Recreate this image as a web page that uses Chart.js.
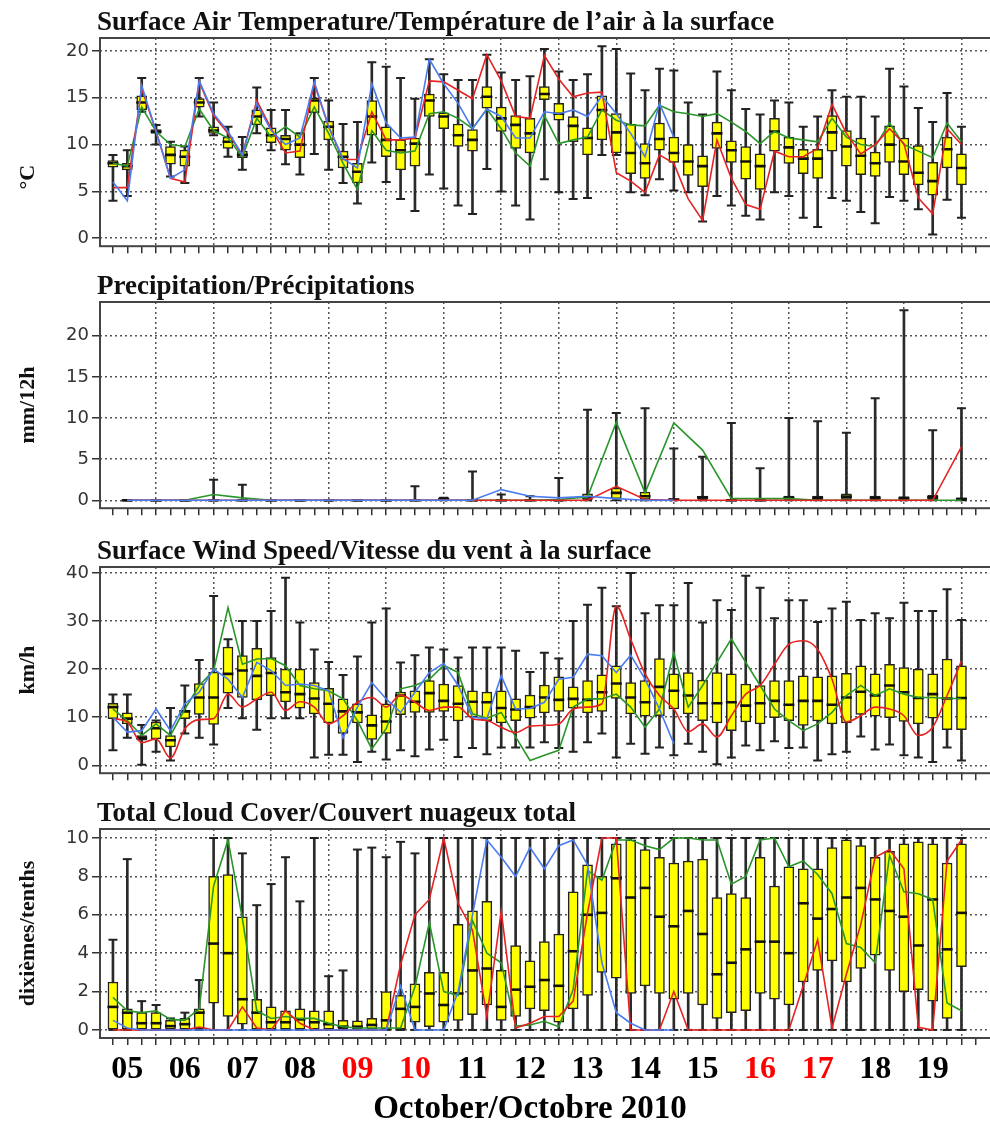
<!DOCTYPE html>
<html>
<head>
<meta charset="utf-8">
<script src="https://cdn.jsdelivr.net/npm/chart.js@4.4.0/dist/chart.umd.min.js"></script>
<style>
  html, body { margin: 0; padding: 0; background: #fff; width: 990px; height: 1124px; overflow: hidden; }
  canvas { position: absolute; left: 0; }
</style>
</head>
<body>
<canvas id="tempChart" width="1000" height="260" style="top:0px"></canvas>
<canvas id="precipChart" width="1000" height="260" style="top:262px"></canvas>
<canvas id="windChart" width="1000" height="260" style="top:527px"></canvas>
<canvas id="cloudChart" width="1000" height="335" style="top:789px"></canvas>
<script>
// heures depuis le 5 octobre 00Z, un pas de 6 h
var slotHours = [6,12,18,24,30,36,42,48,54,60,66,72,78,84,90,96,102,108,114,120,
  126,132,138,144,150,156,162,168,174,180,186,192,198,204,210,216,222,228,234,240,
  246,252,258,264,270,276,282,288,294,300,306,312,318,324,330,336,342,348,354,360];
// precipitations : cumuls de 12 h
var precipHours = [12,24,36,48,60,72,84,96,108,120,132,144,156,168,180,
  192,204,216,228,240,252,264,276,288,300,312,324,336,348,360];

var dayLabels = ['05','06','07','08','09','10','11','12','13','14','15','16','17','18','19'];
var dayLabelHours = [12,36,60,84,108,132,156,180,204,228,252,276,300,324,348];
var redDays = ['09','10','16','17'];

var tempTicks = [0, 5, 10, 15, 20];
var precipTicks = [0, 5, 10, 15, 20];
var windTicks = [0, 10, 20, 30, 40];
var cloudTicks = [0, 2, 4, 6, 8, 10];

// Temperature
var tempLow = [4.0,4.5,13.5,10.0,6.6,5.9,13.0,11.0,8.7,7.3, 11.2,9.4,7.9,6.8,9.0,7.3,5.9,3.7,8.1,6.0,
  4.2,2.9,6.8,5.3,3.5,2.6,7.4,5.0,3.5,2.0, 6.3,4.9,4.2,4.3,8.9,8.9,4.9,4.6,6.3,5.1,
  4.9,1.8,4.5,3.5,2.4,2.0,4.9,4.5,2.2,1.2, 4.3,4.0,2.8,1.6,4.4,4.0,3.1,0.4,4.1,2.2];
var tempQ1 = [7.6,7.3,13.7,11.2,7.9,7.7,14.0,11.2,9.6,8.6, 12.1,10.2,9.4,8.6,13.4,10.5,7.5,5.9,11.0,8.7,
  7.3,7.7,13.0,11.7,9.8,9.3,13.9,11.4,9.6,9.1, 14.8,12.6,10.3,8.9,10.5,9.1,6.9,6.4,9.4,8.1,
  6.7,5.5,9.6,8.1,6.3,5.2,9.3,8.0,6.9,6.4, 9.3,7.7,6.8,6.6,8.1,6.8,5.7,4.6,7.5,5.7];
var tempMed = [8.0,7.7,14.5,11.4,8.9,8.7,14.5,11.5,10.3,8.9, 13.0,11.0,10.6,10.0,14.7,11.9,8.7,7.1,13.0,10.5,
  9.4,10.1,14.7,13.0,11.0,10.5,15.1,12.8,12.1,11.2, 15.4,13.3,12.0,10.7,13.7,11.3,9.1,8.0,10.6,9.1,
  8.2,7.7,11.2,9.4,8.2,7.7,11.4,9.7,8.5,8.5, 11.3,9.8,8.8,8.0,10.0,8.2,7.0,6.1,9.5,7.5];
var tempQ3 = [8.3,8.0,15.2,11.6,9.8,9.4,14.9,11.9,10.8,9.3, 13.7,11.8,11.0,11.2,15.0,12.5,9.3,8.0,14.7,11.9,
  10.5,10.7,15.4,13.4,12.2,11.6,16.2,14.0,13.1,12.8, 16.2,14.4,13.0,11.8,15.2,13.3,12.2,10.1,12.3,10.8,
  10.0,8.8,12.4,10.4,9.8,9.0,12.8,10.8,9.5,9.5, 13.1,11.5,10.7,9.2,12.0,10.7,9.9,8.1,10.8,9.0];
var tempHigh = [8.9,9.4,17.1,12.1,10.3,9.8,17.1,14.5,11.9,10.8, 16.1,13.7,13.7,11.2,17.1,14.7,12.2,12.4,18.8,18.3,
  17.1,14.9,19.1,17.5,16.9,16.9,19.6,17.7,16.9,17.3, 20.2,17.8,16.9,17.5,20.5,20.2,17.6,15.8,18.1,17.9,
  14.5,13.2,17.8,15.8,13.8,13.2,14.7,14.5,11.9,13.0, 15.8,15.1,15.1,13.0,18.1,16.2,13.9,12.4,15.5,11.9];
var tempRed = [5.4,5.4,16.0,11.4,6.4,6.0,16.7,13.1,11.2,8.9, 14.7,11.7,9.1,9.3,16.5,11.9,8.4,8.4,13.5,10.5,
  10.5,10.7,16.8,16.7,15.8,14.9,19.6,16.8,13.0,12.8, 19.5,17.0,15.1,15.5,15.6,7.0,6.1,4.9,8.9,8.0,
  4.2,1.9,10.5,6.4,3.6,3.1,9.3,8.7,8.7,9.6, 14.3,11.2,9.0,10.0,11.7,10.1,4.3,2.6,11.7,10.0];
var tempBlue = [6.0,4.0,16.3,11.4,6.4,7.3,16.8,13.3,11.4,8.9, 14.4,11.5,10.0,10.7,16.7,11.9,8.5,7.5,16.5,12.3,
  10.7,10.8,19.1,16.5,14.4,11.7,13.8,13.0,10.7,10.7, 13.5,13.3,13.7,13.0,15.2,13.3,11.2,8.7,14.4,10.8];
var tempGreen = [8.0,7.7,14.0,11.4,10.0,9.8,13.8,11.5,10.7,8.7, 12.8,10.8,11.9,10.8,14.0,11.2,8.0,5.2,11.5,9.4,
  9.1,9.3,13.3,13.5,12.8,11.7,13.8,11.7,9.1,7.7, 13.1,10.1,10.5,10.8,13.7,12.6,12.1,12.0,14.2,13.5,
  13.3,13.0,13.3,12.4,11.4,10.1,11.4,10.7,10.5,10.3, 12.8,10.8,10.0,9.8,12.3,10.0,9.3,8.6,12.3,10.3];

// Precipitations
var precipLow = [0,0,0,0,0,0,0,0,0,0, 0,0,0,0,0,0,0,0,0,0, 0,0,0,0,0,0,0,0,0,0];
var precipQ1 = [0,0,0,0,0,0,0,0,0,0, 0,0,0,0,0,0,0.1,0.2,0.1,0, 0.1,0,0,0.1,0.1,0.1,0.1,0.1,0.1,0.05];
var precipMed = [0,0,0,0,0,0,0,0,0,0, 0,0.15,0,0,0,0,0.4,0.9,0.5,0.1, 0.35,0,0,0.3,0.3,0.45,0.3,0.25,0.35,0.15];
var precipQ3 = [0,0,0,0,0,0,0,0,0,0, 0,0.3,0,0,0,0,0.8,1.5,1.0,0.2, 0.5,0,0,0.5,0.5,0.8,0.5,0.45,0.6,0.3];
var precipHigh = [0,0,0,2.5,1.9,0,0,0,0,0, 1.7,0.3,3.5,0.7,0.5,2.7,11.0,10.6,11.2,6.3,
  5.3,9.4,3.9,10.0,9.6,8.2,12.4,23.1,8.5,11.2];
var precipRed = [0,0,0,0,0,0,0,0,0,0, 0,0,0,0,0,0,0,1.7,0.1,0, 0,0,0,0,0,0,0,0,0,6.5];
var precipBlue = [0,0,0,0,0,0,0,0,0,0, 0,0,0,1.3,0.5,0.3,0.5,0.2,0,0];
var precipGreen = [0,0,0,0.7,0.3,0,0,0,0,0, 0,0,0,0,0,0.1,0.4,9.5,0.9,9.4, 6.1,0.2,0.2,0.2,0,0,0,0,0,0];

// Vent
var windLow = [3.1,5.7,0.1,2.8,1.0,6.6,5.7,4.3,11.9,9.8, 7.4,9.8,9.8,9.8,1.6,2.2,2.2,0.7,2.8,1.2,
  3.1,1.9,3.3,5.3,1.7,3.6,2.3,3.7,3.7,3.7, 4.8,3.6,2.8,4.8,6.6,1.6,4.5,2.4,3.7,2.1,
  4.5,2.8,0.2,1.6,4.1,3.1,5.0,3.6,3.7,1.0, 2.3,2.8,6.0,3.3,4.3,2.1,1.6,0.7,3.7,1.0];
var windQ1 = [9.7,8.6,5.2,5.5,3.8,9.7,10.6,8.5,15.0,14.1, 13.6,14.5,13.2,11.9,10.7,8.8,6.6,8.8,5.4,6.6,
  10.5,11.0,11.0,11.2,9.2,10.0,9.3,8.8,9.3,9.8, 10.9,11.2,11.9,10.9,11.2,13.9,10.7,10.2,10.3,11.7,
  10.7,9.3,8.8,7.2,9.0,8.6,9.9,9.3,8.3,9.2, 8.6,8.8,10.6,10.2,9.9,9.1,8.6,9.8,7.4,7.4];
var windMed = [12.1,9.7,5.7,7.7,5.2,11.2,14.1,14.1,19.0,19.7, 18.6,19.2,15.2,14.8,13.9,12.8,11.2,11.0,8.3,9.1,
  14.5,13.2,15.0,13.4,12.8,13.2,13.1,11.9,11.6,12.1, 14.1,13.6,13.8,13.6,15.2,17.0,14.1,13.1,16.3,15.5,
  14.5,12.9,12.9,13.1,12.4,12.9,13.4,12.6,13.4,13.4, 12.6,14.1,15.3,14.5,16.6,15.2,14.0,14.8,13.9,14.0];
var windQ3 = [12.9,10.9,6.2,9.0,6.2,11.4,17.0,19.4,24.6,22.8, 24.3,22.4,20.0,20.0,17.2,16.0,13.8,12.8,10.5,12.8,
  15.2,15.5,17.6,16.9,16.6,15.5,15.2,15.5,13.8,14.6, 16.7,18.4,16.3,17.6,18.8,20.7,17.2,17.6,22.2,19.0,
  19.3,17.7,19.3,19.0,16.9,16.6,17.6,17.6,18.6,18.4, 18.6,19.1,20.7,19.0,21.0,20.3,20.0,19.0,22.1,20.7];
var windHigh = [14.7,14.7,8.4,9.3,11.9,16.6,21.9,35.2,26.2,30.0, 30.0,32.1,39.0,29.7,24.1,21.5,18.8,22.6,29.7,32.6,
  21.4,22.9,24.5,24.1,22.4,24.5,24.5,24.5,23.8,19.4, 23.4,22.2,30.0,33.4,36.9,33.1,40.0,31.6,33.3,33.3,
  37.9,29.7,34.3,32.3,39.4,36.9,30.6,34.3,34.3,29.8, 32.6,34.0,30.2,31.6,30.6,33.8,32.1,32.1,36.6,30.2];
var windRed = [9.7,9.0,4.7,5.5,1.5,7.6,9.5,9.7,14.8,12.1, 13.8,15.2,11.4,13.2,12.1,8.6,10.3,13.1,14.1,12.1,
  14.6,13.1,11.4,12.1,12.1,9.7,9.3,7.9,6.8,8.1, 8.3,8.6,11.7,12.1,12.8,33.1,26.2,19.0,14.5,11.7,
  7.0,8.6,5.9,10.3,14.8,16.6,21.0,25.2,25.9,24.1, 17.9,9.0,10.3,12.1,11.7,10.3,6.2,7.9,14.5,21.7];
var windBlue = [10.0,6.9,7.2,11.7,7.2,12.8,15.2,20.0,17.9,14.1, 21.4,19.7,16.6,16.9,16.6,15.5,5.7,12.1,17.2,13.8,
  11.0,15.2,19.3,21.2,16.6,10.0,9.7,18.6,11.7,11.8, 13.1,17.9,18.3,23.1,22.8,19.3,22.9,17.9,11.7,4.5];
var windGreen = [11.7,9.3,6.2,8.6,6.2,11.7,16.6,19.7,32.8,21.0, 22.1,22.2,20.7,16.6,15.9,15.5,13.8,9.3,3.4,7.6,
  15.9,16.6,17.9,20.8,19.3,10.7,9.8,11.0,5.9,1.0, 2.1,3.1,12.1,13.8,13.8,14.8,12.1,7.9,11.7,23.4,
  12.1,16.6,21.4,26.3,21.4,16.6,11.7,9.3,7.2,8.6, 11.0,14.5,16.6,14.5,15.9,14.8,14.1,14.1,13.9,13.9];

// Couvert nuageux
var cloudLow = [0,0,0,0,0,0,0,0,0,0, 0,0,0,0,0,0,0,0,0,0, 0,0,0,0,0,0,0,0,0,0,
  0,0,0,0,0,0,0,0,0,0, 0,0,0,0,0,0,0,0,0,0, 0,0,0,0,0,0,0,0,0,0];
var cloudQ1 = [0,0,0,0,0,0,0,1.4,0.7,0.3, 0,0,0,0,0,0,0,0,0,0,
  0,0.4,0.17,0.4,0.5,0.8,1.3,0.5,0.7,1.1, 1.0,0.4,1.1,1.8,3.0,2.7,1.9,2.3,1.9,1.6,
  1.9,1.3,0.6,0.9,1.0,1.9,1.6,1.3,2.5,3.1, 3.6,2.5,3.2,3.9,3.1,2.0,2.1,1.5,0.6,3.3];
var cloudMed = [1.2,0.9,0.35,0.35,0.2,0.3,0.9,4.5,4.0,1.6, 0.9,0.4,0.4,0.55,0.4,0.3,0.17,0.17,0.26,0.5,
  1.1,1.2,1.9,1.3,1.9,3.1,3.2,1.2,2.1,2.25, 2.6,2.3,4.1,6.0,6.1,7.9,6.9,7.4,5.9,5.4,
  6.2,5.0,2.9,3.5,4.2,4.6,4.6,4.0,6.6,5.8, 6.3,6.9,7.4,6.8,6.2,5.9,4.4,6.8,4.2,6.1];
var cloudQ3 = [2.5,1.1,0.9,0.9,0.5,0.6,1.1,8.0,8.1,5.9, 1.6,1.2,1.0,1.1,1.0,1.0,0.5,0.47,0.6,2.0,
  1.8,2.4,3.0,3.0,5.5,6.2,6.7,3.1,4.4,3.6, 4.6,5.0,7.2,8.6,8.0,9.7,9.9,9.4,9.0,8.7,
  8.8,8.9,6.9,7.1,6.9,9.0,7.5,8.5,8.4,8.4, 9.5,9.9,9.6,9.0,9.3,9.7,9.8,9.7,8.7,9.7];
var cloudHigh = [4.7,8.9,1.5,1.3,0.6,0.9,2.6,10,10,9.2, 6.5,7.6,9.0,6.7,10,2.8,3.1,9.4,9.5,9.0,
  9.8,9.2,10,10,10,10,10,10,10,10, 10,10,10,10,10,10,10,10,10,10,
  10,10,10,10,10,10,10,10,10,10, 10,10,10,10,10,10,10,10,10,10];
var cloudRed = [0,0,0,0,0,0,0.15,0,0,1.2, 0.1,0,1.0,0.35,0,0,0,0,0,0,
  3.4,6.0,6.8,10,6.6,5.2,0.7,6.2,0.1,0.35, 0.7,0.7,1.5,6.1,10,10,0,0,0,2.0,
  0,0,0,0,0,0,0,0,2.3,4.7, 0.1,2.9,5.5,9.0,9.4,8.4,0.14,0,8.8,9.9];
var cloudBlue = [0.5,0.1,0,0,0,0,0,0,0,0, 0,0,0,0,0,0,0,0,0,0,
  2.3,0,0,0,2.0,6.0,9.9,9.0,8.0,9.5, 8.4,9.6,9.9,8.6,3.5,0.9,0.35,0,0,0];
var cloudGreen = [1.7,1.0,0.9,1.0,0.55,0.5,1.1,7.5,9.9,5.8, 1.0,0.6,0.7,0.6,0.6,0.35,0.17,0.1,0.1,0.1,
  0.1,2.25,5.6,2.0,1.8,5.7,4.0,3.5,0.2,0.26, 0.45,0.17,2.1,8.3,7.8,9.9,9.9,9.6,9.4,10,
  10,9.9,9.9,7.6,8.0,9.9,10,8.5,8.8,8.1, 7.1,4.5,4.3,3.5,9.1,7.2,7.1,6.8,1.4,1.0];

var ROUGE = '#e62222';
var VERT = '#2a962a';
var BLEU = '#4a7cf0';

// ticks de l'axe x : toutes les 6 heures
var tickHours = [];
for (var h = 6; h <= 366; h += 6) tickHours.push(h);

// cadre autour de la zone de tracé
var cadre = {
  id: 'cadre',
  afterDatasetsDraw: function(chart) {
    var a = chart.chartArea, ctx = chart.ctx;
    ctx.save();
    ctx.strokeStyle = '#444';
    ctx.lineWidth = 2;
    ctx.strokeRect(a.left, a.top, a.right - a.left, a.bottom - a.top);
    ctx.restore();
  }
};

// titres du panneau
var textes = {
  id: 'textes',
  afterDraw: function(chart, args, opts) {
    var a = chart.chartArea, ctx = chart.ctx;
    ctx.save();
    ctx.fillStyle = '#111';
    ctx.font = 'bold 27px "Liberation Serif"';
    ctx.textAlign = 'left';
    ctx.textBaseline = 'alphabetic';
    ctx.fillText(opts.titre, a.left - 3, a.top - 8);
    ctx.translate(28, (a.top + a.bottom) / 2 + (opts.decalY || 0));
    ctx.rotate(-Math.PI / 2);
    ctx.font = 'bold 22px "Liberation Serif"';
    ctx.textAlign = 'center';
    ctx.textBaseline = 'middle';
    ctx.fillText(opts.titreY, 0, 0);
    ctx.restore();
    if (opts.titreX) {
      var x = chart.scales.x;
      var cx = (x.getPixelForValue(dayLabelHours[0]) + x.getPixelForValue(dayLabelHours[dayLabelHours.length - 1])) / 2;
      ctx.save();
      ctx.fillStyle = '#000';
      ctx.font = 'bold 33px "Liberation Serif"';
      ctx.textAlign = 'center';
      ctx.textBaseline = 'middle';
      ctx.fillText(opts.titreX, cx, a.bottom + 71);
      ctx.restore();
    }
  }
};

function points(xs, ys) {
  return ys.map(function(v, k) { return { x: xs[k], y: v }; });
}

function creerPanneau(id, p) {
  var hrs = p.hours;
  var datasets = [
    { type: 'line', data: points(p.lineHours, p.blue), borderColor: BLEU, borderWidth: 1.6, pointRadius: 0, spanGaps: true, order: 0 },
    { type: 'line', data: points(p.lineHours, p.red), borderColor: ROUGE, borderWidth: 1.6, pointRadius: 0, spanGaps: true, order: 0,
      cubicInterpolationMode: p.smoothRed ? 'monotone' : 'default' },
    { type: 'line', data: points(p.lineHours, p.green), borderColor: VERT, borderWidth: 1.6, pointRadius: 0, spanGaps: true, order: 0 },
    // mediane
    { type: 'scatter', data: points(hrs, p.med), pointStyle: 'line', pointRadius: 5.5, borderColor: '#111', borderWidth: 2.6, order: 1 },
    // boites
    { type: 'bar', data: hrs.map(function(x, k) { return { x: x, y: [p.q1[k], p.q3[k]] }; }),
      backgroundColor: '#ffff00', borderColor: '#222', borderWidth: 1.5, borderSkipped: false,
      barThickness: 10, grouped: false, order: 2 },
    // extremites des moustaches
    { type: 'scatter', data: points(hrs, p.low).concat(points(hrs, p.high)), pointStyle: 'line', pointRadius: 4.5,
      borderColor: '#222', borderWidth: 2, order: 3 },
    // moustaches
    { type: 'bar', data: hrs.map(function(x, k) { return { x: x, y: [p.low[k], p.high[k]] }; }),
      backgroundColor: '#2a2a2a', barThickness: 2, grouped: false, order: 4 }
  ];

  var ctx = document.getElementById(id).getContext('2d');
  return new Chart(ctx, {
    type: 'bar',
    data: { datasets: datasets },
    plugins: [cadre, textes],
    options: {
      responsive: false,
      animation: false,
      events: [],
      layout: { padding: { top: p.topPad, right: 2, left: 0, bottom: 0 } },
      plugins: {
        legend: { display: false },
        tooltip: { enabled: false },
        textes: { titre: p.title, titreY: p.yTitle, decalY: p.yShift, titreX: p.xTitle }
      },
      scales: {
        x: {
          type: 'linear',
          min: 0.6,
          max: 372.7,
          offset: false,
          afterBuildTicks: function(scale) { scale.ticks = tickHours.map(function(v) { return { value: v }; }); },
          afterFit: function(scale) { scale.height = p.xHeight; },
          grid: {
            color: function(c) { return c.tick && c.tick.value % 24 === 0 ? '#555' : 'rgba(0,0,0,0)'; },
            lineWidth: 1.5,
            tickColor: '#333',
            tickLength: 7,
            tickWidth: 1.5,
            offset: false
          },
          border: { display: false, dash: [2, 3] },
          ticks: {
            display: !!p.showDays,
            autoSkip: false,
            maxRotation: 0,
            minRotation: 0,
            padding: 6,
            font: { family: 'Liberation Serif', size: 32, weight: 'bold', lineHeight: 1.2 },
            color: function(c) {
              var k = dayLabelHours.indexOf(c.tick ? c.tick.value : -1);
              return k >= 0 && redDays.indexOf(dayLabels[k]) >= 0 ? '#ff0000' : '#000';
            },
            callback: function(value) {
              var k = dayLabelHours.indexOf(value);
              return k >= 0 ? dayLabels[k] : '';
            }
          }
        },
        y: {
          type: 'linear',
          min: p.yMin,
          max: p.yMax,
          afterBuildTicks: function(scale) { scale.ticks = p.yTicks.map(function(v) { return { value: v }; }); },
          afterFit: function(scale) { scale.width = 100; },
          grid: { color: '#555', lineWidth: 1.5, tickColor: '#333', tickLength: 8, tickWidth: 1.5 },
          border: { display: false, dash: [2, 3] },
          ticks: {
            padding: 3,
            color: '#333',
            font: { family: 'DejaVu Sans', size: 18 }
          }
        }
      }
    }
  });
}

creerPanneau('tempChart', {
  title: 'Surface Air Temperature/Température de l’air à la surface', yTitle: '°C', yShift: 35,
  topPad: 38, xHeight: 12, yMin: -0.85, yMax: 21.38, yTicks: tempTicks,
  hours: slotHours, low: tempLow, q1: tempQ1, med: tempMed, q3: tempQ3, high: tempHigh,
  lineHours: slotHours, red: tempRed, green: tempGreen, blue: tempBlue
});

creerPanneau('precipChart', {
  title: 'Precipitation/Précipitations', yTitle: 'mm/12h',
  topPad: 40, xHeight: 12, yMin: -0.96, yMax: 24.1, yTicks: precipTicks,
  hours: precipHours, low: precipLow, q1: precipQ1, med: precipMed, q3: precipQ3, high: precipHigh,
  lineHours: precipHours, red: precipRed, green: precipGreen, blue: precipBlue
});

creerPanneau('windChart', {
  title: 'Surface Wind Speed/Vitesse du vent à la surface', yTitle: 'km/h',
  topPad: 40, xHeight: 12, yMin: -1.65, yMax: 41.24, yTicks: windTicks,
  hours: slotHours, low: windLow, q1: windQ1, med: windMed, q3: windQ3, high: windHigh,
  lineHours: slotHours, red: windRed, green: windGreen, blue: windBlue, smoothRed: true
});

creerPanneau('cloudChart', {
  title: 'Total Cloud Cover/Couvert nuageux total', yTitle: 'dixièmes/tenths', xTitle: 'October/Octobre 2010',
  topPad: 40, xHeight: 86, yMin: -0.42, yMax: 10.47, yTicks: cloudTicks, showDays: true,
  hours: slotHours, low: cloudLow, q1: cloudQ1, med: cloudMed, q3: cloudQ3, high: cloudHigh,
  lineHours: slotHours, red: cloudRed, green: cloudGreen, blue: cloudBlue
});
</script>
</body>
</html>
